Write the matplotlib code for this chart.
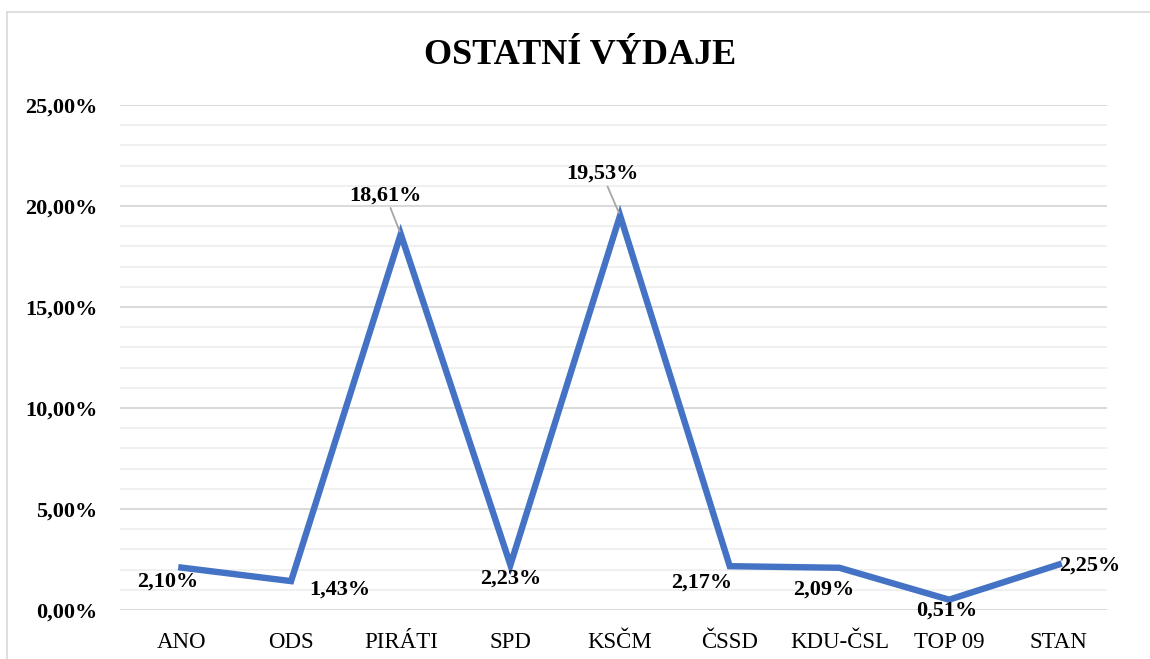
import matplotlib.pyplot as plt
from matplotlib.ticker import MultipleLocator, FuncFormatter
from matplotlib.lines import Line2D

# data
parties = ['ANO', 'ODS', 'PIRÁTI', 'SPD', 'KSČM', 'ČSSD', 'KDU-ČSL', 'TOP 09', 'STAN']
values = [2.10, 1.43, 18.61, 2.23, 19.53, 2.17, 2.09, 0.51, 2.25]
labels = ['2,10%', '1,43%', '18,61%', '2,23%', '19,53%', '2,17%', '2,09%', '0,51%', '2,25%']

# label offsets in points (dx, dy) relative to data point
offsets = [(-10, -10), (35, -6), (-11, 28), (0, -10), (-13, 30), (-20, -12), (-11, -16), (-2, -8), (22, -1)]
leader = [False, False, True, False, True, False, False, False, False]

plt.rcParams['font.family'] = ['Liberation Serif', 'DejaVu Serif']

fig = plt.figure(figsize=(11.5, 6.59), dpi=100)
ax = fig.add_axes([120 / 1150, 49 / 659, 987 / 1150, (610 - 105) / 659])

x = list(range(len(parties)))
ax.plot(x, values, color='#4472C4', lw=4.6, solid_joinstyle='miter', zorder=3)

ax.set_xlim(-0.56, 8.44)
ax.set_ylim(0, 25)
ax.yaxis.set_major_locator(MultipleLocator(5))
ax.yaxis.set_minor_locator(MultipleLocator(1))
ax.yaxis.set_major_formatter(FuncFormatter(lambda v, p: f'{v:.2f}'.replace('.', ',') + '%'))
ax.grid(which='major', axis='y', color='#d9d9d9', lw=1.4)
ax.grid(which='minor', axis='y', color='#f0f0f0', lw=1.4)
ax.set_axisbelow(True)
for s in ax.spines.values():
    s.set_visible(False)
ax.tick_params(axis='both', which='both', length=0)
ax.tick_params(axis='y', pad=16, labelsize=16)
ax.tick_params(axis='x', pad=16, labelsize=16.5)
for t in ax.get_yticklabels():
    t.set_fontweight('bold')
ax.set_xticks(x)
ax.set_xticklabels(parties)

for i, (v, lab) in enumerate(zip(values, labels)):
    dx, dy = offsets[i]
    kw = {}
    if leader[i]:
        kw['arrowprops'] = dict(arrowstyle='-', color='#a6a6a6', lw=1.3, shrinkA=0, shrinkB=2)
    ax.annotate(lab, (i, v), xytext=(dx, dy), textcoords='offset points',
                ha='center', va='center', fontsize=16, fontweight='bold', **kw)

fig.text(580 / 1150, 1 - 56 / 659, 'OSTATNÍ VÝDAJE', ha='center', va='center',
         fontsize=26, fontweight='bold')

# chart border
fig.add_artist(Line2D([7 / 1150, 7 / 1150], [0, 1 - 12 / 659], transform=fig.transFigure, color='#d9d9d9', lw=1.2))
fig.add_artist(Line2D([7 / 1150, 1], [1 - 12 / 659, 1 - 12 / 659], transform=fig.transFigure, color='#d9d9d9', lw=1.2))

fig.savefig('out.png', dpi=100)
